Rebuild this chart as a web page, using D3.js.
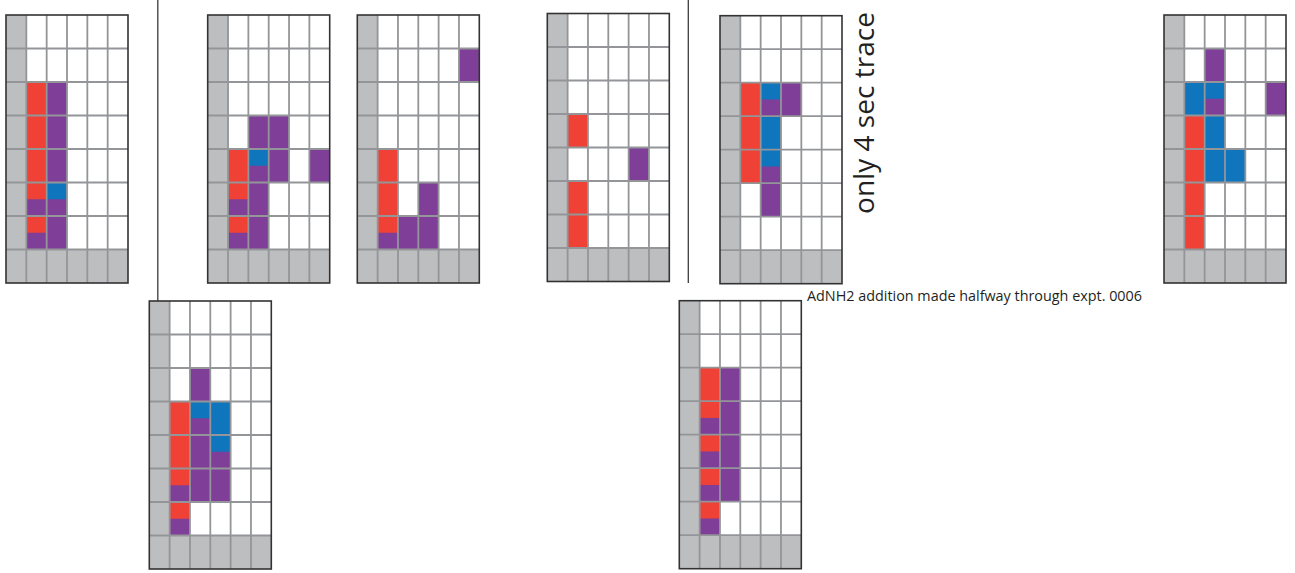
<!DOCTYPE html>
<html><head><meta charset="utf-8">
<script src="https://cdn.jsdelivr.net/npm/d3@7"></script>
<style>html,body{margin:0;padding:0;background:#fff;}svg{display:block;}</style>
</head><body>
<svg id="chart" width="1295" height="573"></svg>
<script>
// ---- data ----
const rowIds = [0,1,2,3,4,5,6,7];
const colIds = [0,1,2,3,4,5];
const stateNames = {r:"red", p:"purple", b:"blue"};
// each cell: [row, col, topState, bottomState]
const panel1Cells = [[2,1,"r","r"],[2,2,"p","p"],[3,1,"r","r"],[3,2,"p","p"],[4,1,"r","r"],[4,2,"p","p"],[5,1,"r","p"],[5,2,"b","p"],[6,1,"r","p"],[6,2,"p","p"]];
const panel2Cells = [[3,2,"p","p"],[3,3,"p","p"],[4,1,"r","r"],[4,2,"b","p"],[4,3,"p","p"],[4,5,"p","p"],[5,1,"r","p"],[5,2,"p","p"],[6,1,"r","p"],[6,2,"p","p"]];
const panel3Cells = [[1,5,"p","p"],[4,1,"r","r"],[5,1,"r","r"],[5,3,"p","p"],[6,1,"r","p"],[6,2,"p","p"],[6,3,"p","p"]];
const panel4Cells = [[3,1,"r","r"],[4,4,"p","p"],[5,1,"r","r"],[6,1,"r","r"]];
const panel5Cells = [[2,1,"r","r"],[2,2,"b","p"],[2,3,"p","p"],[3,1,"r","r"],[3,2,"b","b"],[4,1,"r","r"],[4,2,"b","p"],[5,2,"p","p"]];
const panel6Cells = [[1,2,"p","p"],[2,1,"b","b"],[2,2,"b","p"],[2,5,"p","p"],[3,1,"r","r"],[3,2,"b","b"],[4,1,"r","r"],[4,2,"b","b"],[4,3,"b","b"],[5,1,"r","r"],[6,1,"r","r"]];
const panel7Cells = [[2,2,"p","p"],[3,1,"r","r"],[3,2,"b","p"],[3,3,"b","b"],[4,1,"r","r"],[4,2,"p","p"],[4,3,"b","p"],[5,1,"r","p"],[5,2,"p","p"],[5,3,"p","p"],[6,1,"r","p"]];
const panel8Cells = [[2,1,"r","r"],[2,2,"p","p"],[3,1,"r","p"],[3,2,"p","p"],[4,1,"r","p"],[4,2,"p","p"],[5,1,"r","p"],[5,2,"p","p"],[6,1,"r","p"]];
const rotatedNote = "only 4 sec trace";
const footNote = "AdNH2 addition made halfway through expt. 0006";

// ---- layout ----
const panels = [
  {cells: panel1Cells, x: 6,     y: 15},
  {cells: panel2Cells, x: 207.7, y: 15},
  {cells: panel3Cells, x: 357.3, y: 15},
  {cells: panel4Cells, x: 547.3, y: 13.5},
  {cells: panel5Cells, x: 720,   y: 15.7},
  {cells: panel6Cells, x: 1164,  y: 15},
  {cells: panel7Cells, x: 149.3, y: 301},
  {cells: panel8Cells, x: 679.3, y: 300.7}
];
const W = 122, H = 268;
const colors = {r:"#ef4136", p:"#7f3f98", b:"#0f75bc", g:"#bcbec0"};

const svg = d3.select("#chart");
const xS = d3.scaleBand().domain(colIds).range([0, W]);
const yS = d3.scaleBand().domain(rowIds).range([0, H]);

panels.forEach(p => {
  const g = svg.append("g").attr("transform", `translate(${p.x},${p.y})`);
  g.append("rect").attr("width", W).attr("height", H).attr("fill", "#fff");
  // grey frame cells: first column and last row
  const greyCells = [];
  rowIds.forEach(r => greyCells.push([r, 0]));
  colIds.slice(1).forEach(c => greyCells.push([rowIds[rowIds.length-1], c]));
  g.selectAll("rect.grey").data(greyCells).join("rect")
    .attr("class", "grey")
    .attr("x", d => xS(d[1])).attr("y", d => yS(d[0]))
    .attr("width", xS.bandwidth()).attr("height", yS.bandwidth())
    .attr("fill", colors.g);
  // coloured cells: bottom state fills whole cell, top state overlays upper half
  g.selectAll("rect.cellb").data(p.cells).join("rect")
    .attr("class", d => "cellb " + stateNames[d[3]])
    .attr("x", d => xS(d[1])).attr("y", d => yS(d[0]))
    .attr("width", xS.bandwidth()).attr("height", yS.bandwidth())
    .attr("fill", d => colors[d[3]]);
  g.selectAll("rect.cellt").data(p.cells.filter(d => d[2] !== d[3])).join("rect")
    .attr("class", d => "cellt " + stateNames[d[2]])
    .attr("x", d => xS(d[1])).attr("y", d => yS(d[0]))
    .attr("width", xS.bandwidth()).attr("height", yS.bandwidth() / 2)
    .attr("fill", d => colors[d[2]]);
  // grid lines
  g.selectAll("line.v").data(colIds.slice(1)).join("line")
    .attr("class", "v")
    .attr("x1", d => xS(d)).attr("x2", d => xS(d)).attr("y1", 0).attr("y2", H)
    .attr("stroke", "#939598").attr("stroke-width", 1.8);
  g.selectAll("line.h").data(rowIds.slice(1)).join("line")
    .attr("class", "h")
    .attr("y1", d => yS(d)).attr("y2", d => yS(d)).attr("x1", 0).attr("x2", W)
    .attr("stroke", "#939598").attr("stroke-width", 1.8);
  // outer border
  g.append("rect").attr("width", W).attr("height", H)
    .attr("fill", "none").attr("stroke", "#333").attr("stroke-width", 1.6);
});

// separator lines
svg.append("line").attr("x1", 157.8).attr("x2", 157.8).attr("y1", 0).attr("y2", 301)
  .attr("stroke", "#3a3a3a").attr("stroke-width", 1.3);
svg.append("line").attr("x1", 688.3).attr("x2", 688.3).attr("y1", 0).attr("y2", 283)
  .attr("stroke", "#3a3a3a").attr("stroke-width", 1.3);

// rotated note
svg.append("text")
  .attr("transform", "translate(874,214) rotate(-90)")
  .attr("font-family", "'Open Sans', sans-serif")
  .attr("font-size", 28)
  .attr("fill", "#231f20")
  .attr("textLength", 202).attr("lengthAdjust", "spacingAndGlyphs")
  .text(rotatedNote);

// footnote
svg.append("text")
  .attr("x", 807).attr("y", 301)
  .attr("font-family", "'Open Sans', sans-serif")
  .attr("font-size", 14)
  .attr("fill", "#231f20")
  .attr("textLength", 335).attr("lengthAdjust", "spacingAndGlyphs")
  .text(footNote);
</script>
</body></html>
